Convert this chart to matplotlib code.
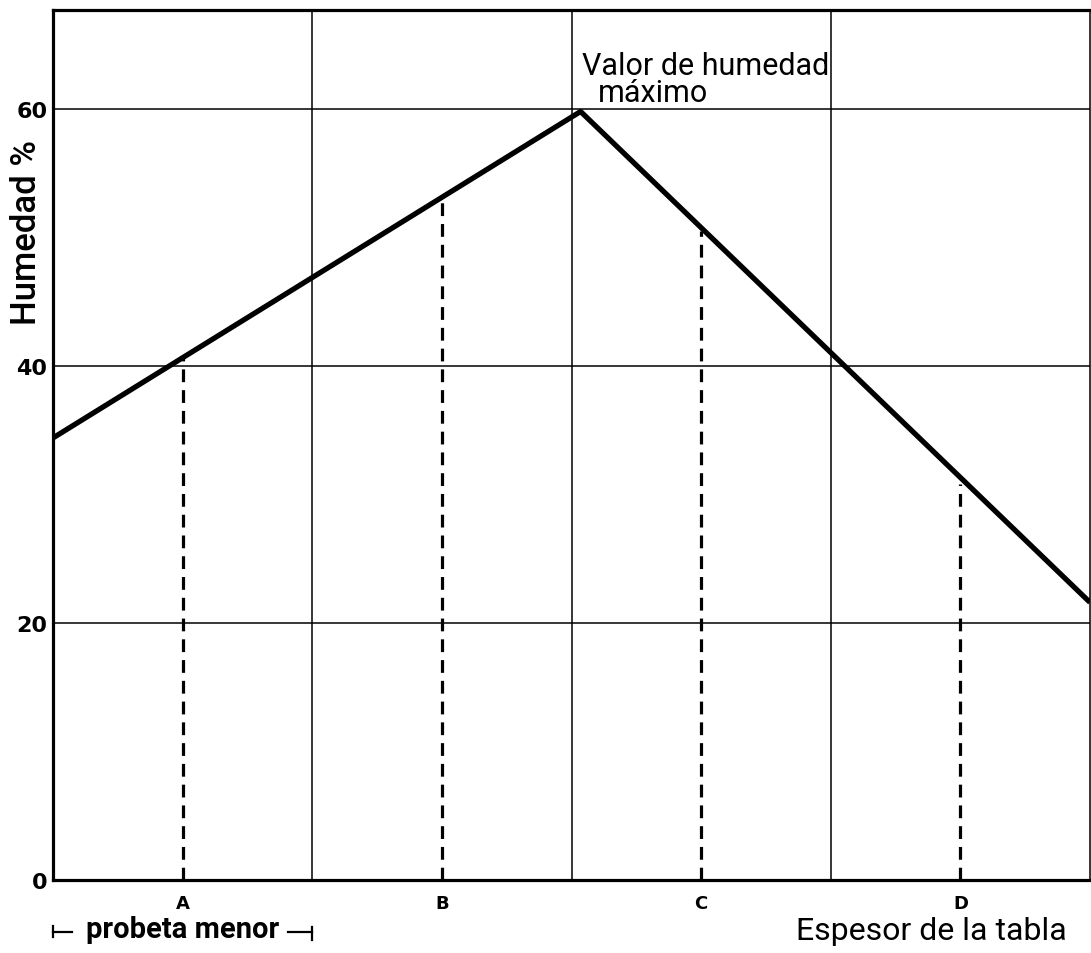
import matplotlib.pyplot as plt
import matplotlib.transforms as mtransforms

# humidity profile across the board thickness
x_line = [0, 2.035, 4]
y_line = [34.4, 59.8, 21.6]

# sample positions and the humidity read at each
samples = ['A', 'B', 'C', 'D']
sample_x = [0.5, 1.5, 2.5, 3.5]
sample_y = [40.6, 53.2, 50.5, 30.8]

yticks = [0, 20, 40, 60]

narrow = ['Roboto', 'DejaVu Sans']

fig = plt.figure(figsize=(10.91, 9.54), dpi=100)
ax = fig.add_axes([0.0486, 0.0765, 0.9505, 0.912])

ax.set_xlim(0, 4)
ax.set_ylim(0, 67.7)

for v in [1, 2, 3]:
    ax.axvline(v, color='black', lw=1.1, zorder=1)
for v in [20, 40, 60]:
    ax.axhline(v, color='black', lw=1.1, zorder=1)

ax.vlines(sample_x, 0, sample_y, colors='black', lw=2.3,
          linestyles=(0, (4, 2.5)), zorder=2)
ax.plot(x_line, y_line, color='black', lw=3.8, solid_capstyle='butt', zorder=3)

for s in ['left', 'bottom', 'top']:
    ax.spines[s].set_linewidth(2.3)
ax.spines['right'].set_linewidth(1.1)

ax.set_yticks(yticks)
ax.set_yticklabels([str(v) for v in yticks], fontweight='bold', fontsize=16)
ax.set_xticks(sample_x)
ax.set_xticklabels(samples, fontweight='bold', fontsize=13)
ax.tick_params(axis='y', length=0, pad=4)
ax.tick_params(axis='x', length=0, pad=10)

# y label sits high on the axis, as in the original drawing
ax.text(-0.026, 0.745, 'Humedad %', family=narrow, fontsize=25,
        fontweight='medium', rotation=90, ha='center', va='center',
        transform=ax.transAxes)

ax.text(2.04, 62.7, 'Valor de humedad', family=narrow, fontsize=22,
        ha='left', va='baseline')
ax.text(2.10, 60.6, 'máximo', family=narrow, fontsize=22,
        ha='left', va='baseline')

ax.text(0.978, -0.068, 'Espesor de la tabla', family=narrow, fontsize=23,
        ha='right', va='baseline', transform=ax.transAxes)

trans = mtransforms.blended_transform_factory(ax.transData, ax.transAxes)
ax.text(0.5, -0.066, 'probeta menor', family=narrow, fontsize=21,
        fontweight='bold', ha='center', va='baseline', transform=trans)
bk = dict(color='black', lw=1.6, transform=trans, clip_on=False)
ax.plot([0, 0], [-0.053, -0.066], **bk)
ax.plot([0, 0.075], [-0.06, -0.06], **bk)
ax.plot([0.905, 1.0], [-0.06, -0.06], **bk)
ax.plot([1.0, 1.0], [-0.054, -0.069], **bk)

fig.savefig('out.png', dpi=100)
